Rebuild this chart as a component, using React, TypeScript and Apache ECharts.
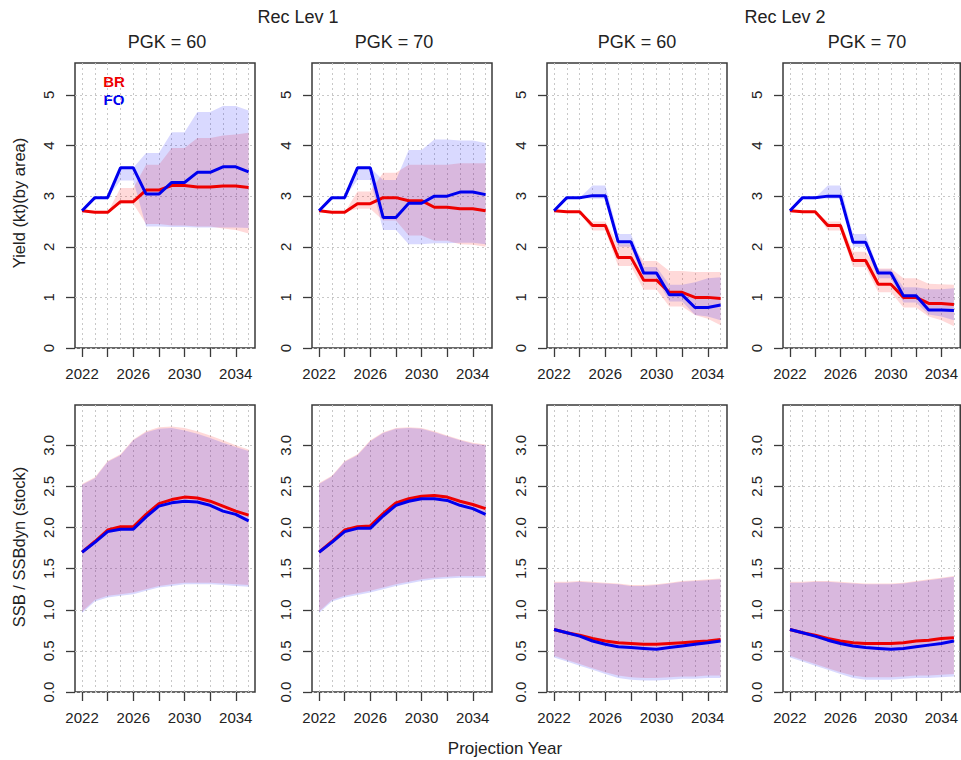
import React, { useEffect, useRef } from "react";
import * as echarts from "echarts";

// ---------- categories / ticks ----------
const years = [2022, 2023, 2024, 2025, 2026, 2027, 2028, 2029, 2030, 2031, 2032, 2033, 2034, 2035];
const xTickYears = [2022, 2024, 2026, 2028, 2030, 2032, 2034];
const xLabelYears = [2022, 2026, 2030, 2034];
const yieldTicks = [0, 1, 2, 3, 4, 5];
const ssbTicks = [0, 0.5, 1.0, 1.5, 2.0, 2.5, 3.0];
const recLevelTitles = ["Rec Lev 1", "Rec Lev 2"];
const pgkTitles = ["PGK = 60", "PGK = 70", "PGK = 60", "PGK = 70"];
const legendNames = ["BR", "FO"];
const yieldTitle = "Yield (kt)(by area)";
const ssbTitle = "SSB / SSBdyn (stock)";
const xTitle = "Projection Year";

// ---------- Yield (top row) ----------
// Rec Lev 1, PGK = 60
const yR1P60_brMed = [2.71, 2.68, 2.68, 2.89, 2.89, 3.12, 3.12, 3.21, 3.21, 3.18, 3.18, 3.2, 3.2, 3.17];
const yR1P60_foMed = [2.71, 2.97, 2.97, 3.56, 3.56, 3.04, 3.04, 3.27, 3.27, 3.47, 3.47, 3.58, 3.58, 3.48];
const yR1P60_brLo = [2.71, 2.68, 2.68, 2.85, 2.85, 2.45, 2.45, 2.42, 2.42, 2.4, 2.4, 2.36, 2.33, 2.26];
const yR1P60_brHi = [2.71, 2.68, 2.68, 3.16, 3.16, 3.62, 3.62, 3.95, 3.95, 4.15, 4.15, 4.2, 4.22, 4.25];
const yR1P60_foLo = [2.71, 2.97, 2.97, 3.31, 3.31, 2.4, 2.4, 2.39, 2.39, 2.38, 2.38, 2.38, 2.38, 2.37];
const yR1P60_foHi = [2.71, 2.97, 2.97, 3.56, 3.56, 3.85, 3.85, 4.26, 4.26, 4.66, 4.66, 4.78, 4.78, 4.69];
// Rec Lev 1, PGK = 70
const yR1P70_brMed = [2.71, 2.68, 2.68, 2.85, 2.85, 2.97, 2.97, 2.91, 2.91, 2.78, 2.78, 2.75, 2.75, 2.71];
const yR1P70_foMed = [2.71, 2.97, 2.97, 3.56, 3.56, 2.58, 2.58, 2.86, 2.86, 3.0, 3.0, 3.08, 3.08, 3.03];
const yR1P70_brLo = [2.71, 2.68, 2.68, 2.75, 2.75, 2.52, 2.52, 2.22, 2.22, 2.12, 2.12, 2.05, 2.04, 2.0];
const yR1P70_brHi = [2.71, 2.68, 2.68, 3.09, 3.09, 3.46, 3.46, 3.62, 3.62, 3.62, 3.62, 3.65, 3.65, 3.65];
const yR1P70_foLo = [2.71, 2.97, 2.97, 3.32, 3.32, 2.33, 2.33, 2.05, 2.05, 2.07, 2.07, 2.08, 2.08, 2.05];
const yR1P70_foHi = [2.71, 2.97, 2.97, 3.56, 3.56, 3.32, 3.32, 3.91, 3.91, 4.12, 4.12, 4.1, 4.1, 4.05];
// Rec Lev 2, PGK = 60
const yR2P60_brMed = [2.71, 2.69, 2.69, 2.42, 2.42, 1.79, 1.79, 1.34, 1.34, 1.1, 1.1, 1.0, 1.0, 0.98];
const yR2P60_foMed = [2.71, 2.97, 2.97, 3.01, 3.01, 2.1, 2.1, 1.48, 1.48, 1.05, 1.05, 0.8, 0.8, 0.85];
const yR2P60_brLo = [2.71, 2.69, 2.69, 2.32, 2.32, 1.62, 1.62, 1.15, 1.15, 0.82, 0.82, 0.65, 0.58, 0.45];
const yR2P60_brHi = [2.71, 2.69, 2.69, 2.5, 2.5, 2.05, 2.05, 1.72, 1.72, 1.52, 1.52, 1.5, 1.5, 1.5];
const yR2P60_foLo = [2.71, 2.97, 2.97, 2.95, 2.95, 2.0, 2.0, 1.38, 1.38, 0.92, 0.92, 0.65, 0.62, 0.55];
const yR2P60_foHi = [2.71, 2.97, 2.97, 3.21, 3.21, 2.25, 2.25, 1.6, 1.6, 1.25, 1.25, 1.3, 1.38, 1.4];
// Rec Lev 2, PGK = 70
const yR2P70_brMed = [2.71, 2.69, 2.69, 2.42, 2.42, 1.73, 1.73, 1.26, 1.26, 1.0, 1.0, 0.88, 0.88, 0.86];
const yR2P70_foMed = [2.71, 2.97, 2.97, 3.0, 3.0, 2.09, 2.09, 1.48, 1.48, 1.03, 1.03, 0.75, 0.75, 0.74];
const yR2P70_brLo = [2.71, 2.69, 2.69, 2.32, 2.32, 1.6, 1.6, 1.1, 1.1, 0.8, 0.8, 0.62, 0.55, 0.43];
const yR2P70_brHi = [2.71, 2.69, 2.69, 2.5, 2.5, 1.9, 1.9, 1.57, 1.57, 1.38, 1.38, 1.27, 1.26, 1.25];
const yR2P70_foLo = [2.71, 2.97, 2.97, 2.95, 2.95, 2.0, 2.0, 1.38, 1.38, 0.9, 0.9, 0.66, 0.62, 0.55];
const yR2P70_foHi = [2.71, 2.97, 2.97, 3.21, 3.21, 2.25, 2.25, 1.55, 1.55, 1.2, 1.2, 1.16, 1.16, 1.18];

// ---------- SSB / SSBdyn (bottom row) ----------
const sR1P60_brMed = [1.7, 1.83, 1.97, 2.01, 2.01, 2.16, 2.29, 2.34, 2.37, 2.36, 2.32, 2.26, 2.2, 2.15];
const sR1P60_foMed = [1.7, 1.82, 1.95, 1.98, 1.98, 2.13, 2.26, 2.3, 2.32, 2.31, 2.27, 2.2, 2.16, 2.08];
const sR1P60_brLo = [0.98, 1.12, 1.17, 1.19, 1.21, 1.25, 1.29, 1.31, 1.33, 1.33, 1.33, 1.32, 1.31, 1.3];
const sR1P60_brHi = [2.53, 2.61, 2.81, 2.89, 3.07, 3.17, 3.22, 3.23, 3.21, 3.17, 3.12, 3.06, 3.0, 2.95];
const sR1P60_foLo = [0.96, 1.1, 1.15, 1.17, 1.19, 1.23, 1.27, 1.29, 1.31, 1.31, 1.31, 1.3, 1.29, 1.28];
const sR1P60_foHi = [2.52, 2.6, 2.8, 2.88, 3.06, 3.16, 3.2, 3.21, 3.18, 3.14, 3.09, 3.03, 2.98, 2.93];

const sR1P70_brMed = [1.7, 1.83, 1.97, 2.01, 2.02, 2.17, 2.3, 2.35, 2.38, 2.39, 2.37, 2.32, 2.28, 2.23];
const sR1P70_foMed = [1.7, 1.82, 1.95, 1.99, 1.99, 2.14, 2.27, 2.32, 2.35, 2.35, 2.33, 2.27, 2.23, 2.16];
const sR1P70_brLo = [0.98, 1.12, 1.17, 1.2, 1.23, 1.27, 1.31, 1.34, 1.37, 1.39, 1.4, 1.41, 1.41, 1.41];
const sR1P70_brHi = [2.54, 2.63, 2.81, 2.89, 3.06, 3.16, 3.21, 3.22, 3.21, 3.17, 3.12, 3.07, 3.03, 3.01];
const sR1P70_foLo = [0.96, 1.1, 1.15, 1.18, 1.21, 1.25, 1.29, 1.32, 1.35, 1.37, 1.38, 1.39, 1.39, 1.39];
const sR1P70_foHi = [2.53, 2.62, 2.8, 2.88, 3.05, 3.15, 3.2, 3.21, 3.2, 3.16, 3.11, 3.06, 3.02, 3.0];

const sR2P60_brMed = [0.76, 0.72, 0.69, 0.65, 0.62, 0.6, 0.59, 0.58, 0.58, 0.59, 0.6, 0.61, 0.62, 0.64];
const sR2P60_foMed = [0.76, 0.72, 0.68, 0.62, 0.58, 0.55, 0.54, 0.53, 0.52, 0.54, 0.56, 0.58, 0.6, 0.62];
const sR2P60_brLo = [0.44, 0.39, 0.34, 0.29, 0.24, 0.2, 0.18, 0.17, 0.17, 0.18, 0.19, 0.19, 0.2, 0.2];
const sR2P60_brHi = [1.34, 1.34, 1.35, 1.34, 1.33, 1.32, 1.3, 1.3, 1.31, 1.33, 1.35, 1.36, 1.37, 1.38];
const sR2P60_foLo = [0.42, 0.37, 0.32, 0.27, 0.22, 0.17, 0.15, 0.14, 0.14, 0.15, 0.16, 0.16, 0.17, 0.17];
const sR2P60_foHi = [1.33, 1.33, 1.34, 1.33, 1.32, 1.31, 1.29, 1.29, 1.3, 1.32, 1.34, 1.35, 1.36, 1.37];

const sR2P70_brMed = [0.76, 0.72, 0.69, 0.65, 0.62, 0.6, 0.59, 0.59, 0.59, 0.6, 0.62, 0.63, 0.65, 0.66];
const sR2P70_foMed = [0.76, 0.72, 0.68, 0.63, 0.59, 0.56, 0.54, 0.53, 0.52, 0.53, 0.55, 0.57, 0.59, 0.62];
const sR2P70_brLo = [0.44, 0.39, 0.34, 0.29, 0.24, 0.2, 0.18, 0.18, 0.18, 0.19, 0.2, 0.2, 0.21, 0.22];
const sR2P70_brHi = [1.34, 1.34, 1.35, 1.35, 1.34, 1.33, 1.32, 1.32, 1.32, 1.33, 1.35, 1.37, 1.39, 1.41];
const sR2P70_foLo = [0.42, 0.37, 0.32, 0.27, 0.22, 0.17, 0.15, 0.15, 0.15, 0.16, 0.17, 0.17, 0.18, 0.19];
const sR2P70_foHi = [1.33, 1.33, 1.34, 1.34, 1.33, 1.32, 1.31, 1.31, 1.31, 1.32, 1.34, 1.36, 1.38, 1.4];

type PanelData = {
  brMed: number[]; foMed: number[];
  brLo: number[]; brHi: number[];
  foLo: number[]; foHi: number[];
};

const panels: PanelData[] = [
  { brMed: yR1P60_brMed, foMed: yR1P60_foMed, brLo: yR1P60_brLo, brHi: yR1P60_brHi, foLo: yR1P60_foLo, foHi: yR1P60_foHi },
  { brMed: yR1P70_brMed, foMed: yR1P70_foMed, brLo: yR1P70_brLo, brHi: yR1P70_brHi, foLo: yR1P70_foLo, foHi: yR1P70_foHi },
  { brMed: yR2P60_brMed, foMed: yR2P60_foMed, brLo: yR2P60_brLo, brHi: yR2P60_brHi, foLo: yR2P60_foLo, foHi: yR2P60_foHi },
  { brMed: yR2P70_brMed, foMed: yR2P70_foMed, brLo: yR2P70_brLo, brHi: yR2P70_brHi, foLo: yR2P70_foLo, foHi: yR2P70_foHi },
  { brMed: sR1P60_brMed, foMed: sR1P60_foMed, brLo: sR1P60_brLo, brHi: sR1P60_brHi, foLo: sR1P60_foLo, foHi: sR1P60_foHi },
  { brMed: sR1P70_brMed, foMed: sR1P70_foMed, brLo: sR1P70_brLo, brHi: sR1P70_brHi, foLo: sR1P70_foLo, foHi: sR1P70_foHi },
  { brMed: sR2P60_brMed, foMed: sR2P60_foMed, brLo: sR2P60_brLo, brHi: sR2P60_brHi, foLo: sR2P60_foLo, foHi: sR2P60_foHi },
  { brMed: sR2P70_brMed, foMed: sR2P70_foMed, brLo: sR2P70_brLo, brHi: sR2P70_brHi, foLo: sR2P70_foLo, foHi: sR2P70_foHi },
];

// ---------- layout / style ----------
const FONT = "'Liberation Sans', Arial, Helvetica, sans-serif";
const PANEL_LEFTS = [75, 312, 547, 783];
const PANEL_W = 180;
const ROW_TOPS = [63, 405];
const ROW_HEIGHTS = [285, 287];
const X_MIN = 2021.45;
const X_MAX = 2035.5;
const Y_MAX = [5.63, 3.49];
const RED = "#ee0000";
const BLUE = "#0000ee";
const RED_BAND = "rgba(255,0,0,0.15)";
const BLUE_BAND = "rgba(0,0,255,0.15)";
const GRID_COLOR = "#c8c8c8";
const AXIS_COLOR = "#3a3a3a";
const TEXT_COLOR = "#222";

function bandSeries(xi: number, yi: number, lo: number[], hi: number[], fill: string, name: string) {
  const data = years.map((yr, k) => [yr, lo[k], hi[k]]);
  return {
    type: "custom",
    name,
    xAxisIndex: xi,
    yAxisIndex: yi,
    silent: true,
    z: 1,
    clip: true,
    encode: { x: 0, y: [1, 2] },
    data,
    renderItem: (params: any, api: any) => {
      if (params.dataIndex !== 0) return null;
      const upper = data.map((d) => api.coord([d[0], d[2]]));
      const lower = data.map((d) => api.coord([d[0], d[1]])).reverse();
      return {
        type: "polygon",
        shape: { points: upper.concat(lower) },
        style: { fill, stroke: "none" },
      };
    },
  };
}

function buildOption() {
  const grid: any[] = [];
  const xAxis: any[] = [];
  const yAxis: any[] = [];
  const series: any[] = [];

  const pairs = (ys: number[]) => years.map((yr, k) => [yr, ys[k]]);

  panels.forEach((p, i) => {
    const row = i < 4 ? 0 : 1;
    const col = i % 4;
    grid.push({
      left: PANEL_LEFTS[col],
      top: ROW_TOPS[row],
      width: PANEL_W,
      height: ROW_HEIGHTS[row],
      show: true,
      borderColor: AXIS_COLOR,
      borderWidth: 1.5,
      backgroundColor: "transparent",
      containLabel: false,
    });
    // main x axis: data + vertical dotted grid at every year
    xAxis.push({
      type: "value",
      gridIndex: i,
      min: X_MIN,
      max: X_MAX,
      axisLine: { show: false },
      axisTick: { show: false, customValues: years },
      axisLabel: { show: false, customValues: years },
      splitLine: { show: true, lineStyle: { color: GRID_COLOR, type: [2, 3], width: 1 } },
    });
    // tick / label x axis
    xAxis.push({
      type: "value",
      gridIndex: i,
      min: X_MIN,
      max: X_MAX,
      position: "bottom",
      axisLine: { show: false },
      axisTick: { show: true, length: 9, customValues: xTickYears, lineStyle: { color: AXIS_COLOR, width: 1.3 } },
      axisLabel: {
        show: true,
        customValues: xLabelYears,
        margin: 18,
        fontSize: 15,
        fontFamily: FONT,
        color: TEXT_COLOR,
        formatter: (v: number) => String(Math.round(v)),
      },
      splitLine: { show: false },
    });
    const ticks = row === 0 ? yieldTicks : ssbTicks;
    yAxis.push({
      type: "value",
      gridIndex: i,
      min: 0,
      max: Y_MAX[row],
      axisLine: { show: false },
      axisTick: { show: true, length: 9, customValues: ticks, lineStyle: { color: AXIS_COLOR, width: 1.3 } },
      axisLabel: {
        show: true,
        customValues: ticks,
        rotate: 90,
        margin: 19,
        fontSize: 15,
        fontFamily: FONT,
        color: TEXT_COLOR,
        formatter: (v: number) => (row === 0 ? String(Math.round(v)) : v.toFixed(1)),
      },
      splitLine: { show: true, lineStyle: { color: GRID_COLOR, type: [2, 3], width: 1 } },
    });

    const xi = 2 * i;
    series.push(bandSeries(xi, i, p.brLo, p.brHi, RED_BAND, `BR band ${i}`));
    series.push(bandSeries(xi, i, p.foLo, p.foHi, BLUE_BAND, `FO band ${i}`));
    const base = { type: "line", xAxisIndex: xi, yAxisIndex: i, symbol: "none", silent: true, clip: true };
    series.push({ ...base, name: `BR ${i}`, data: pairs(p.brMed), lineStyle: { color: RED, width: 3 }, itemStyle: { color: RED }, z: 3 });
    series.push({ ...base, name: `FO ${i}`, data: pairs(p.foMed), lineStyle: { color: BLUE, width: 3 }, itemStyle: { color: BLUE }, z: 4 });
  });

  const txt = (text: string, x: number, y: number, fontSize: number, opts: any = {}) => ({
    type: "text",
    x,
    y,
    rotation: opts.rotation || 0,
    silent: true,
    style: {
      text,
      fontSize,
      fontFamily: FONT,
      fontWeight: opts.bold ? "bold" : "normal",
      fill: opts.color || TEXT_COLOR,
      textAlign: "center",
      textVerticalAlign: "middle",
    },
  });

  const graphic: any[] = [
    txt(recLevelTitles[0], 298, 17, 18),
    txt(recLevelTitles[1], 785, 17, 18),
    txt(pgkTitles[0], 167, 42, 18),
    txt(pgkTitles[1], 394, 42, 18),
    txt(pgkTitles[2], 637, 42, 18),
    txt(pgkTitles[3], 867, 42, 18),
    txt(yieldTitle, 19, 203, 16.5, { rotation: Math.PI / 2 }),
    txt(ssbTitle, 19, 547, 16.5, { rotation: Math.PI / 2 }),
    txt(xTitle, 505, 748, 17),
    txt(legendNames[0], 114, 81, 15, { bold: true, color: RED }),
    txt(legendNames[1], 114, 99, 15, { bold: true, color: BLUE }),
  ];

  return {
    animation: false,
    backgroundColor: "#ffffff",
    textStyle: { fontFamily: FONT },
    grid,
    xAxis,
    yAxis,
    series,
    graphic,
  };
}

export default function App() {
  const ref = useRef<HTMLDivElement>(null);
  useEffect(() => {
    if (!ref.current) return;
    const chart = echarts.init(ref.current, undefined, { renderer: "svg" });
    chart.setOption(buildOption() as any);
    return () => chart.dispose();
  }, []);
  return (
    <div
      ref={ref}
      style={{ position: "absolute", left: 0, top: 0, width: 961, height: 760, background: "#fff" }}
    />
  );
}
